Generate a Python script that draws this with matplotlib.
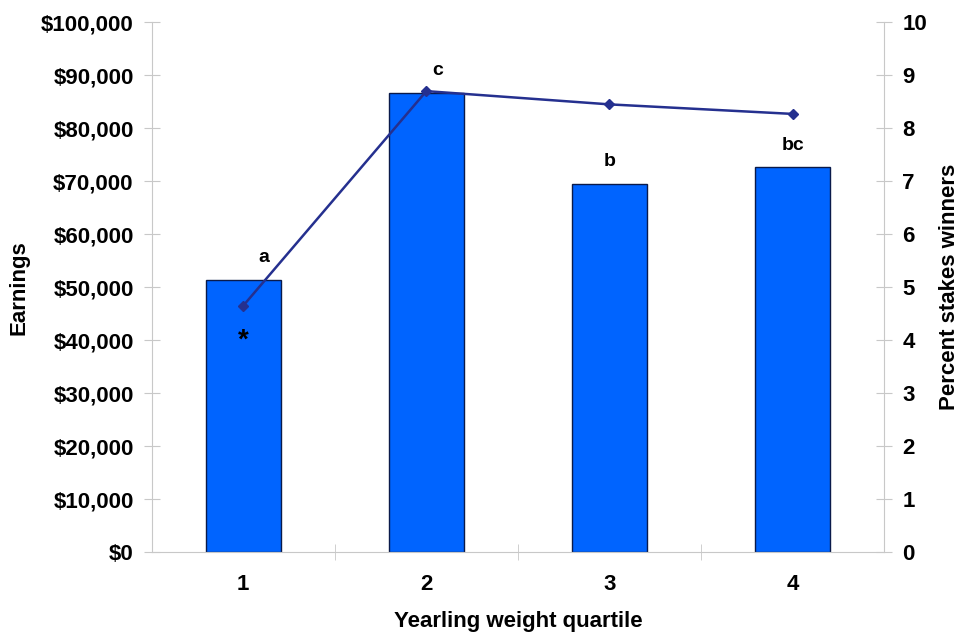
import matplotlib
matplotlib.use("Agg")
import matplotlib.pyplot as plt
from matplotlib.ticker import FuncFormatter, FixedLocator

categories = ["1", "2", "3", "4"]
earnings = [51300, 86600, 69400, 72600]
stakes_pct = [4.65, 8.7, 8.45, 8.27]
letters = ["a", "c", "b", "bc"]
y_left_ticks = list(range(0, 100001, 10000))
y_right_ticks = list(range(0, 11))

plt.rcParams['font.family'] = ['Liberation Sans', 'DejaVu Sans']
plt.rcParams['font.weight'] = 'bold'

FS = 16
fig = plt.figure(figsize=(9.6, 6.36), dpi=100)
ax = fig.add_axes([0.158, 0.132, 0.763, 0.833])
x = list(range(len(categories)))

ax.bar(x, earnings, width=0.41, color='#0064ff', edgecolor='#0a1a4a', linewidth=1.0, zorder=2)
ax.set_xlim(-0.5, len(categories) - 0.5)
ax.set_ylim(0, 100000)
ax.yaxis.set_major_locator(FixedLocator(y_left_ticks))
ax.yaxis.set_major_formatter(FuncFormatter(lambda v, p: "${:,.0f}".format(v)))
ax.set_xticks(x)
ax.set_xticklabels(categories)
ax.set_xticks([i + 0.5 for i in x[:-1]], minor=True)

gray = '#c8c8c8'
ax.spines['top'].set_visible(False)
ax.spines['right'].set_visible(False)
ax.spines['left'].set_color(gray)
ax.spines['bottom'].set_color(gray)
ax.tick_params(axis='y', direction='inout', length=12, color=gray, labelsize=FS, pad=7)
ax.tick_params(axis='x', which='major', length=0, labelsize=FS, pad=16)
ax.tick_params(axis='x', which='minor', direction='inout', length=12, color=gray)
for lab in ax.get_yticklabels() + ax.get_xticklabels():
    lab.set_fontweight('bold')

ax.set_ylabel("Earnings", fontsize=FS, fontweight='bold', labelpad=8)
ax.set_xlabel("Yearling weight quartile", fontsize=FS, fontweight='bold', labelpad=11)

for xi, v, l in zip(x, earnings, letters):
    dx = 15 if l == "a" else (8 if l == "c" else 0)
    ax.annotate(l, (xi, v), xytext=(dx, 10), textcoords='offset points',
                ha='center', va='bottom', fontsize=14, fontweight='bold', zorder=5)
ax.annotate("*", (x[0], 40000), ha='center', va='center', fontsize=20, fontweight='bold', zorder=5)

ax2 = ax.twinx()
ax2.plot(x, stakes_pct, color='#25308f', linewidth=1.8, marker='D', markersize=5, zorder=4)
ax2.set_ylim(0, 10)
ax2.yaxis.set_major_locator(FixedLocator(y_right_ticks))
for s in ['top', 'left', 'bottom']:
    ax2.spines[s].set_visible(False)
ax2.spines['right'].set_color(gray)
ax2.tick_params(axis='y', direction='inout', length=12, color=gray, labelsize=FS, pad=7)
for lab in ax2.get_yticklabels():
    lab.set_fontweight('bold')
ax2.set_ylabel("Percent stakes winners", fontsize=FS, fontweight='bold', labelpad=9)

fig.savefig("out.png", dpi=100)
